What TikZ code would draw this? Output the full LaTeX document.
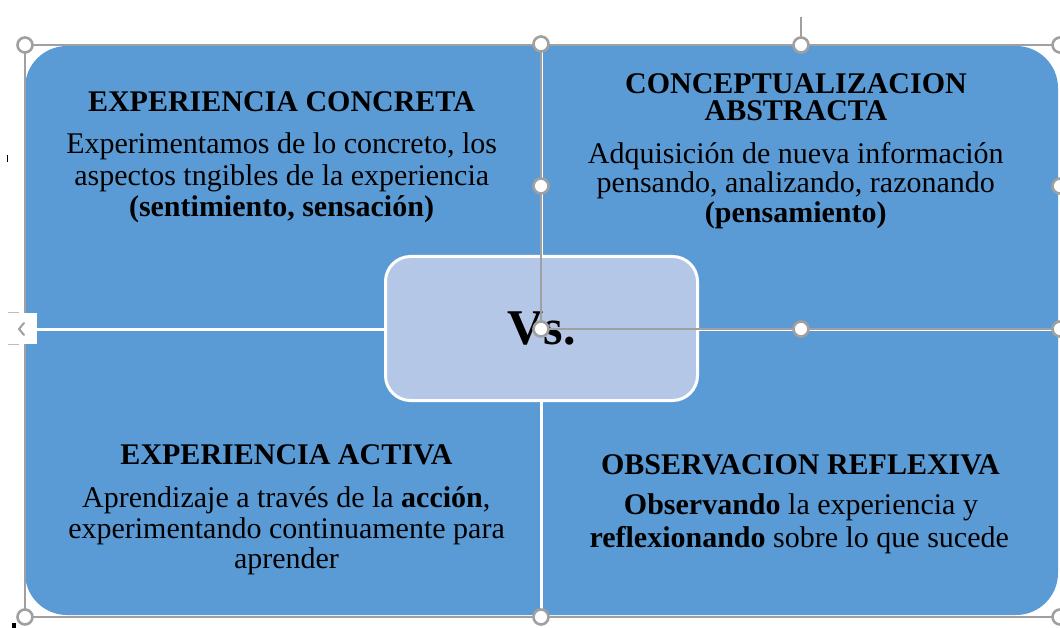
\documentclass[tikz,border=0pt]{standalone}
\usepackage{fontspec}
\setmainfont{Liberation Serif}
\definecolor{quadblue}{HTML}{5B9BD5}
\definecolor{centerblue}{HTML}{B4C7E7}
\definecolor{uigray}{HTML}{A0A0A0}
\begin{document}
\begin{tikzpicture}[x=1pt,y=-1pt,
  titletext/.style={font=\fontsize{30}{32}\selectfont\bfseries, anchor=base, inner sep=0pt},
  bodytext/.style={font=\fontsize{30}{32}\selectfont, anchor=base, inner sep=0pt},
  handle/.style={circle, draw=uigray, fill=white, line width=2.6pt, minimum size=15pt, inner sep=0pt},
  divider/.style={white, line width=3pt},
  selframe/.style={uigray, line width=1.8pt}
]
\useasboundingbox (0,0) rectangle (1060,628);
\fill[white] (0,0) rectangle (1060,628);

% quadrants
\fill[quadblue, rounded corners=42pt] (25,46) rectangle (1058,615);
\draw[divider] (541,46) -- (541,615);
\draw[divider] (25,329) -- (1058,329);

% center box
\node[draw=white, line width=3pt, fill=centerblue, rounded corners=25pt,
      minimum width=312pt, minimum height=144pt, inner sep=0pt,
      font=\fontsize{50}{52}\selectfont\bfseries] (vs) at (541.5,328.5) {Vs.};

% texts top-left
\node[titletext] (t1) at (281.5,111.7) {EXPERIENCIA CONCRETA};
\node[bodytext] (b1a) at (281.7,154) {Experimentamos de lo concreto, los};
\node[bodytext] (b1b) at (281.7,186) {aspectos tngibles de la experiencia};
\node[bodytext] (b1c) at (281.5,216.5) {\bfseries (sentimiento, sensación)};

% texts top-right
\node[titletext] (t2a) at (796,93.3) {CONCEPTUALIZACION};
\node[titletext] (t2b) at (796,120.7) {ABSTRACTA};
\node[bodytext] (b2a) at (795.8,164) {Adquisición de nueva información};
\node[bodytext] (b2b) at (795.8,193) {pensando, analizando, razonando};
\node[bodytext] (b2c) at (795.8,223) {\bfseries (pensamiento)};

% texts bottom-left
\node[titletext] (t3) at (286.5,464) {EXPERIENCIA ACTIVA};
\node[bodytext] (b3a) at (286.3,507) {Aprendizaje a través de la \textbf{acción},};
\node[bodytext] (b3b) at (286.5,538) {experimentando continuamente para};
\node[bodytext] (b3c) at (286.5,568) {aprender};

% texts bottom-right
\node[titletext] (t4) at (800.5,474.5) {OBSERVACION REFLEXIVA};
\node[bodytext] (b4a) at (801,514) {\textbf{Observando} la experiencia y};
\node[bodytext] (b4b) at (799.2,547) {\textbf{reflexionando} sobre lo que sucede};

% selection frames
\draw[selframe] (25,45) rectangle (1062,617);
\draw[selframe] (541,45) -- (541,329) -- (1062,329);
\draw[uigray, line width=1.5pt] (801,17) -- (801,45);

% handles
\foreach \n/\x/\y in {h1/25/45, h2/541/44, h3/801/45, h4/1060/45,
                       h5/541/186, h6/1060/186, h7/801/329, h8/1060/329,
                       h9/541/329, h10/25/617, h11/541/617, h12/1060/617}
  \node[handle] (\n) at (\x,\y) {};

% layout tab
\node[fill=white, minimum width=27pt, minimum height=31pt, inner sep=0pt] (tab) at (23.5,328.5) {};
\draw[uigray, line width=2pt, line cap=round, line join=round] (24,323) -- (19,329) -- (24,335);
\draw[uigray!70, line width=1pt] (8,313) -- (19,313);
\draw[uigray!70, line width=1pt] (8,344) -- (19,344);

% small marks
\fill[black] (6.5,155) rectangle (8,162);
\fill[black] (12,623) rectangle (16,628);
\end{tikzpicture}
\end{document}
